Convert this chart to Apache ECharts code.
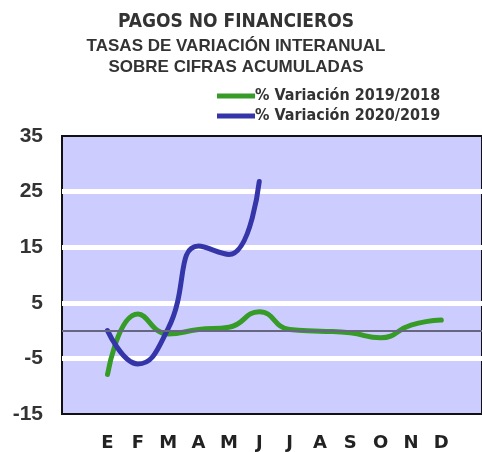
<!DOCTYPE html>
<html>
<head>
<meta charset="utf-8">
<script src="https://cdn.jsdelivr.net/npm/echarts@6/dist/echarts.min.js"></script>
<style>
    html, body { margin: 0; padding: 0; background: #fff; }
    #chart { width: 482px; height: 452px; }
</style>
</head>
<body>
<div id="chart"></div>
<script>
// months shown on the x axis
const months = ['E', 'F', 'M', 'A', 'M', 'J', 'J', 'A', 'S', 'O', 'N', 'D']
// % Variación 2019/2018
const var2019 = [-7.9, 3.0, -0.6, 0.2, 0.6, 3.4, 0.2, -0.1, -0.4, -1.3, 1.0, 1.9]
// % Variación 2020/2019 (hasta junio)
const var2020 = [0.0, -6.0, 0.4, 15.2, 13.7, 26.8]
const yTicks = [-15, -5, 5, 15, 25, 35]

const toPoints = (values) => values.map((v, i) => [i, v])

const narrow = '"DejaVu Sans Condensed", "Liberation Sans", sans-serif'

const chart = echarts.init(document.getElementById('chart'))

chart.setOption({
    backgroundColor: '#fff',
    animation: false,
    title: {
        text: 'PAGOS NO FINANCIEROS',
        subtext: 'TASAS DE VARIACIÓN INTERANUAL\nSOBRE CIFRAS ACUMULADAS',
        left: 231,
        textAlign: 'center',
        top: 8,
        itemGap: 4,
        textStyle: {
            fontFamily: narrow,
            fontWeight: 'bold',
            fontSize: 19,
            color: '#333'
        },
        subtextStyle: {
            fontFamily: 'Liberation Sans',
            fontWeight: 'bold',
            fontSize: 17,
            lineHeight: 21,
            color: '#333'
        }
    },
    legend: {
        orient: 'vertical',
        left: 212,
        top: 83,
        itemWidth: 38,
        itemHeight: 5,
        itemGap: 4,
        icon: 'rect',
        data: ['% Variación 2019/2018', '% Variación 2020/2019'],
        textStyle: {
            fontFamily: narrow,
            fontWeight: 'bold',
            fontSize: 16,
            color: '#333',
            padding: [0, 0, 0, -5]
        }
    },
    grid: {
        left: 62,
        right: -4,
        top: 136,
        bottom: 33,
        show: true,
        backgroundColor: '#ccccff',
        borderColor: '#111',
        borderWidth: 2
    },
    xAxis: {
        type: 'value',
        min: -1.5,
        max: 12.34,
        axisLine: { show: false },
        axisTick: { show: false },
        splitLine: { show: false },
        axisLabel: {
            customValues: months.map((m, i) => i),
            formatter: (v) => months[v],
            margin: 20,
            fontFamily: 'DejaVu Sans',
            fontWeight: 'bold',
            fontSize: 18,
            color: '#222'
        }
    },
    yAxis: {
        type: 'value',
        min: -15,
        max: 35,
        interval: 10,
        axisLine: { show: false },
        axisTick: { show: false },
        splitLine: {
            show: true,
            showMinLine: false,
            showMaxLine: false,
            lineStyle: { color: '#fff', width: 5 }
        },
        axisLabel: {
            customValues: yTicks,
            margin: 19,
            fontFamily: 'Liberation Sans',
            fontWeight: 'bold',
            fontSize: 21,
            color: '#333'
        }
    },
    series: [
        {
            name: '% Variación 2019/2018',
            type: 'line',
            smooth: 0.5,
            showSymbol: false,
            color: '#379b28',
            lineStyle: { width: 5, cap: 'round' },
            data: toPoints(var2019),
            markLine: {
                silent: true,
                symbol: 'none',
                label: { show: false },
                lineStyle: { color: '#666680', width: 2, type: 'solid' },
                data: [{ yAxis: 0 }]
            },
            z: 3
        },
        {
            name: '% Variación 2020/2019',
            type: 'line',
            smooth: 0.5,
            showSymbol: false,
            color: '#3535aa',
            lineStyle: { width: 5, cap: 'round' },
            data: toPoints(var2020),
            z: 4
        }
    ]
})
</script>
</body>
</html>
